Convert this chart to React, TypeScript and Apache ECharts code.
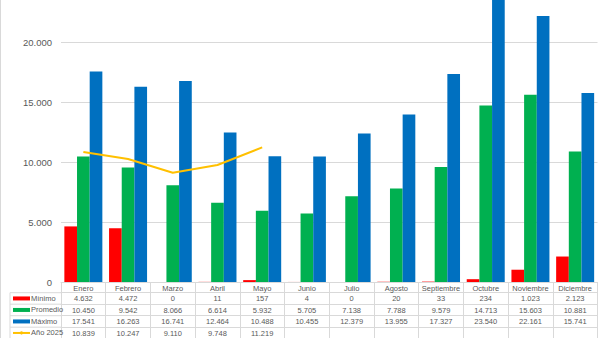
import React, { useEffect, useRef } from "react";
import * as echarts from "echarts";

const months = ["Enero", "Febrero", "Marzo", "Abril", "Mayo", "Junio", "Julio", "Agosto", "Septiembre", "Octubre", "Noviembre", "Diciembre"];
const minimo = [4632, 4472, 0, 11, 157, 4, 0, 20, 33, 234, 1023, 2123];
const promedio = [10450, 9542, 8066, 6614, 5932, 5705, 7138, 7788, 9579, 14713, 15603, 10881];
const maximo = [17541, 16263, 16741, 12464, 10488, 10455, 12379, 13955, 17327, 23540, 22161, 15741];
const anio2025: (number | null)[] = [10839, 10247, 9110, 9748, 11219, null, null, null, null, null, null, null];
const seriesNames = ["Mínimo", "Promedio", "Máximo", "Año 2025"];
const yTicks = [0, 5000, 10000, 15000, 20000, 25000];

const colors = ["#FF0000", "#00B050", "#0070C0", "#FFC000"];
const grid = "#D9D9D9";
const textColor = "#595959";
const tableFont = "'Liberation Sans Narrow', 'Liberation Sans', Arial, sans-serif";

const fmt = (v: number | null) =>
  v === null || v === undefined ? "" : String(v).replace(/\B(?=(\d{3})+(?!\d))/g, ".");

const OFF = 18; // the chart's top part lies above the page
const EXTRA = 14; // room below the page so the table's last row fits
const H = 338 + OFF + EXTRA;

export default function App() {
  const ref = useRef<HTMLDivElement>(null);
  useEffect(() => {
    if (!ref.current) return;
    const chart = echarts.init(ref.current, null, { renderer: "svg" });
    const rows = [minimo, promedio, maximo, anio2025];
    const rowH = 11.5;
    const axisY = 282 + OFF;
    const firstLine = 292.7 + OFF;
    const option: any = {
      animation: false,
      backgroundColor: "#ffffff",
      grid: { left: 61, right: 2.5, top: 0, bottom: H - axisY, containLabel: false },
      legend: {
        orient: "vertical",
        left: 12,
        top: firstLine,
        padding: 0,
        itemGap: 0,
        itemWidth: 17,
        itemHeight: 4,
        textStyle: { fontSize: 7.5, color: textColor, fontFamily: tableFont, lineHeight: rowH, padding: [0, 0, 0, -4] },
        data: [
          { name: seriesNames[0], icon: "rect" },
          { name: seriesNames[1], icon: "rect" },
          { name: seriesNames[2], icon: "rect" },
          { name: seriesNames[3] },
        ],
      },
      xAxis: [
        {
          type: "category",
          data: months,
          position: "bottom",
          axisLine: { show: true, lineStyle: { color: grid, width: 1 } },
          axisTick: { show: true, length: 60, lineStyle: { color: grid } },
          axisLabel: { interval: 0, fontSize: 7.5, color: textColor, fontFamily: tableFont, margin: 2 },
        },
        ...rows.map((r, k) => ({
          type: "category",
          data: months,
          position: "bottom",
          offset: firstLine - axisY + rowH * k,
          axisLine: { show: true, lineStyle: { color: grid, width: 1 } },
          axisTick: { show: false },
          axisLabel: {
            interval: 0,
            fontSize: 7.5,
            color: textColor,
            fontFamily: tableFont,
            margin: 2,
            formatter: (_v: string, i: number) => fmt(r[i] as number | null),
          },
        })),
      ],
      yAxis: {
        type: "value",
        min: yTicks[0],
        max: yTicks[yTicks.length - 1],
        interval: yTicks[1] - yTicks[0],
        axisLine: { show: false },
        axisTick: { show: false },
        splitLine: { lineStyle: { color: grid, width: 1 } },
        axisLabel: {
          fontSize: 9.5,
          color: textColor,
          fontFamily: "'Liberation Sans', Arial, sans-serif",
          margin: 9,
          showMaxLabel: false,
          formatter: (v: number) => fmt(v),
        },
      },
      series: [
        { name: seriesNames[0], type: "bar", data: minimo, itemStyle: { color: colors[0] }, barGap: "0%", barCategoryGap: "15%" },
        { name: seriesNames[1], type: "bar", data: promedio, itemStyle: { color: colors[1] }, barGap: "0%", barCategoryGap: "15%" },
        { name: seriesNames[2], type: "bar", data: maximo, itemStyle: { color: colors[2] }, barGap: "0%", barCategoryGap: "15%" },
        {
          name: seriesNames[3],
          type: "line",
          data: anio2025,
          symbol: "none",
          connectNulls: false,
          lineStyle: { color: colors[3], width: 2 },
          itemStyle: { color: colors[3] },
          z: 5,
        },
      ],
      graphic: [
        ...[0, 1, 2, 3].map((k) => ({
          type: "line",
          shape: { x1: 10, y1: firstLine + rowH * k, x2: 61, y2: firstLine + rowH * k },
          style: { stroke: grid, lineWidth: 1 },
          silent: true,
        })),
        {
          type: "line",
          shape: { x1: 10, y1: firstLine, x2: 10, y2: H },
          style: { stroke: grid, lineWidth: 1 },
          silent: true,
        },
        {
          type: "line",
          shape: { x1: 0.5, y1: 0, x2: 0.5, y2: H },
          style: { stroke: grid, lineWidth: 1 },
          silent: true,
        },
      ],
    };
    chart.setOption(option);
    return () => chart.dispose();
  }, []);
  return (
    <div
      ref={ref}
      style={{ position: "fixed", left: 0, top: -OFF, width: 600, height: H, background: "#fff" }}
    />
  );
}
